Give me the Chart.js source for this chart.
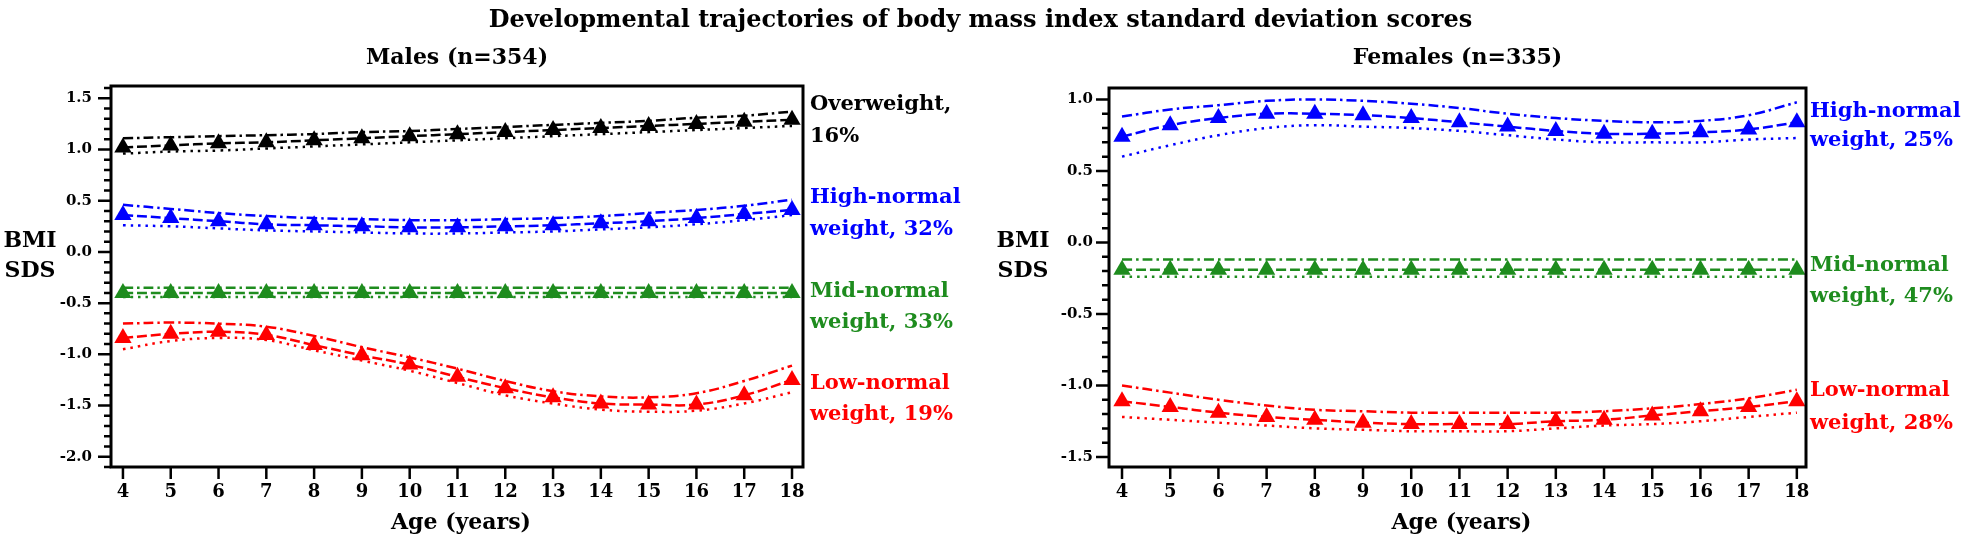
<!DOCTYPE html>
<html>
<head>
<meta charset="utf-8">
<script src="https://cdn.jsdelivr.net/npm/chart.js@4.4.1/dist/chart.umd.min.js"></script>
<style>
  html, body { margin: 0; padding: 0; background: #fff; }
  #wrap { position: relative; width: 1961px; height: 541px; overflow: hidden; }
  #title { position: absolute; left: 0; top: 4px; width: 1961px; text-align: center;
           font: bold 24px "DejaVu Serif"; line-height: 30px; color: #000; }
  #c1 { position: absolute; left: 0; top: 0; }
  #c2 { position: absolute; left: 980px; top: 0; }
</style>
</head>
<body>
<div id="wrap">
  <canvas id="c1" width="980" height="541"></canvas>
  <canvas id="c2" width="981" height="541"></canvas>
  <div id="title">Developmental trajectories of body mass index standard deviation scores</div>
</div>
<script>
// ages 4..18
const ages = [4, 5, 6, 7, 8, 9, 10, 11, 12, 13, 14, 15, 16, 17, 18];

// Males: upper CI / estimate / lower CI
const mOwUp  = [1.11, 1.12, 1.13, 1.14, 1.15, 1.17, 1.18, 1.20, 1.22, 1.24, 1.26, 1.28, 1.31, 1.33, 1.37];
const mOwEst = [1.02, 1.04, 1.06, 1.07, 1.09, 1.11, 1.13, 1.15, 1.17, 1.19, 1.21, 1.23, 1.25, 1.27, 1.29];
const mOwLo  = [0.96, 0.98, 0.99, 1.01, 1.03, 1.05, 1.07, 1.09, 1.11, 1.13, 1.15, 1.17, 1.19, 1.21, 1.23];

const mHnUp  = [0.46, 0.42, 0.38, 0.35, 0.33, 0.32, 0.31, 0.31, 0.32, 0.33, 0.35, 0.38, 0.41, 0.45, 0.51];
const mHnEst = [0.36, 0.33, 0.30, 0.27, 0.26, 0.25, 0.24, 0.24, 0.25, 0.26, 0.28, 0.30, 0.33, 0.37, 0.41];
const mHnLo  = [0.26, 0.25, 0.23, 0.21, 0.20, 0.19, 0.18, 0.18, 0.19, 0.20, 0.22, 0.24, 0.27, 0.31, 0.36];

const mMnUp  = [-0.35, -0.35, -0.35, -0.35, -0.35, -0.35, -0.35, -0.35, -0.35, -0.35, -0.35, -0.35, -0.35, -0.35, -0.35];
const mMnEst = [-0.40, -0.40, -0.40, -0.40, -0.40, -0.40, -0.40, -0.40, -0.40, -0.40, -0.40, -0.40, -0.40, -0.40, -0.40];
const mMnLo  = [-0.44, -0.44, -0.44, -0.44, -0.44, -0.44, -0.44, -0.44, -0.44, -0.44, -0.44, -0.44, -0.44, -0.44, -0.44];

const mLnUp  = [-0.70, -0.69, -0.70, -0.73, -0.82, -0.93, -1.03, -1.14, -1.26, -1.36, -1.41, -1.42, -1.38, -1.26, -1.11];
const mLnEst = [-0.84, -0.80, -0.78, -0.81, -0.91, -1.01, -1.10, -1.22, -1.33, -1.42, -1.48, -1.49, -1.49, -1.40, -1.25];
const mLnLo  = [-0.95, -0.87, -0.84, -0.86, -0.96, -1.06, -1.16, -1.28, -1.40, -1.48, -1.54, -1.56, -1.55, -1.48, -1.37];

// Females
const fHnUp  = [0.88, 0.93, 0.96, 0.99, 1.00, 0.99, 0.97, 0.94, 0.90, 0.87, 0.85, 0.84, 0.85, 0.89, 0.98];
const fHnEst = [0.74, 0.82, 0.87, 0.90, 0.90, 0.89, 0.87, 0.84, 0.81, 0.78, 0.76, 0.76, 0.77, 0.79, 0.84];
const fHnLo  = [0.60, 0.68, 0.75, 0.80, 0.82, 0.81, 0.80, 0.78, 0.75, 0.72, 0.70, 0.70, 0.70, 0.72, 0.73];

const fMnUp  = [-0.12, -0.12, -0.12, -0.12, -0.12, -0.12, -0.12, -0.12, -0.12, -0.12, -0.12, -0.12, -0.12, -0.12, -0.12];
const fMnEst = [-0.19, -0.19, -0.19, -0.19, -0.19, -0.19, -0.19, -0.19, -0.19, -0.19, -0.19, -0.19, -0.19, -0.19, -0.19];
const fMnLo  = [-0.24, -0.24, -0.24, -0.24, -0.24, -0.24, -0.24, -0.24, -0.24, -0.24, -0.24, -0.24, -0.24, -0.24, -0.24];

const fLnUp  = [-1.00, -1.05, -1.10, -1.14, -1.17, -1.18, -1.19, -1.19, -1.19, -1.19, -1.18, -1.16, -1.13, -1.09, -1.03];
const fLnEst = [-1.11, -1.15, -1.19, -1.22, -1.24, -1.26, -1.27, -1.27, -1.27, -1.25, -1.24, -1.21, -1.18, -1.15, -1.11];
const fLnLo  = [-1.22, -1.24, -1.26, -1.28, -1.30, -1.31, -1.32, -1.32, -1.32, -1.30, -1.28, -1.27, -1.25, -1.22, -1.19];

const BLACK = '#000000', BLUE = '#0000ff', GREEN = '#1e8c1e', RED = '#ff0000';
const FONT = '"DejaVu Serif"';

// three lines per class: upper (dash-dot), estimate (dashed + triangles), lower (dotted)
function band(color, up, est, lo) {
  const pts = arr => arr.map((v, i) => ({ x: ages[i], y: v }));
  const base = { borderColor: color, borderWidth: 2.5, tension: 0.4, fill: false, pointRadius: 0 };
  return [
    Object.assign({}, base, { data: pts(up), borderDash: [10, 4, 2.5, 4] }),
    Object.assign({}, base, { data: pts(est), borderDash: [10, 4], pointRadius: 10, pointStyle: 'triangle',
      pointBackgroundColor: color, pointBorderColor: color, pointBorderWidth: 0 }),
    Object.assign({}, base, { data: pts(lo), borderDash: [2.5, 5] })
  ];
}

const isMajor = v => Math.abs(v * 2 - Math.round(v * 2)) < 1e-6;

const decor = {
  id: 'decor',
  afterDraw(chart, args, o) {
    const ctx = chart.ctx, a = chart.chartArea;
    const xs = chart.scales.x, ys = chart.scales.y;
    ctx.save();
    ctx.strokeStyle = '#000';
    ctx.lineWidth = 2.5;
    ctx.beginPath();
    ys.ticks.forEach(t => {
      const p = ys.getPixelForValue(t.value);
      ctx.moveTo(a.left - (isMajor(t.value) ? 13 : 7), p);
      ctx.lineTo(a.left, p);
    });
    xs.ticks.forEach(t => {
      const p = xs.getPixelForValue(t.value);
      ctx.moveTo(p, a.bottom);
      ctx.lineTo(p, a.bottom + 12);
    });
    ctx.stroke();
    ctx.lineWidth = 3;
    ctx.strokeRect(a.left, a.top, a.right - a.left, a.bottom - a.top);

    ctx.textBaseline = 'middle';
    ctx.fillStyle = '#000';
    ctx.textAlign = 'center';
    ctx.font = 'bold 22px ' + FONT;
    ctx.fillText(o.title, (a.left + a.right) / 2, 58);
    ctx.fillText('Age (years)', (a.left + a.right) / 2 + 4, 523);
    ctx.fillText('BMI', o.ylabX, 241);
    ctx.fillText('SDS', o.ylabX, 271);

    ctx.textAlign = 'left';
    ctx.font = 'bold 21px ' + FONT;
    o.labels.forEach(l => {
      ctx.fillStyle = l.color;
      ctx.fillText(l.text, a.right + o.labelGap, l.y);
    });
    ctx.restore();
  }
};

function makeChart(id, datasets, cfg) {
  return new Chart(document.getElementById(id), {
    type: 'line',
    data: { datasets: datasets },
    plugins: [decor],
    options: {
      responsive: false,
      devicePixelRatio: 1,
      animation: false,
      layout: { padding: { left: 0, top: cfg.top, right: cfg.right, bottom: 0 } },
      plugins: {
        legend: { display: false },
        tooltip: { enabled: false },
        decor: cfg.decor
      },
      scales: {
        x: {
          type: 'linear', min: cfg.xMin, max: cfg.xMax,
          grid: { display: false, drawTicks: false }, border: { display: false },
          ticks: { stepSize: 1, includeBounds: false, autoSkip: false, maxRotation: 0, padding: 15,
                   color: '#000', font: { family: FONT, weight: 'bold', size: 18 } },
          afterFit: s => { s.height = 74; }
        },
        y: {
          min: cfg.yMin, max: cfg.yMax,
          grid: { display: false, drawTicks: false }, border: { display: false },
          ticks: { stepSize: 0.1, includeBounds: false, autoSkip: false, padding: cfg.yPad,
                   color: '#000', font: { family: FONT, weight: 'bold', size: 15 },
                   callback: v => isMajor(v) ? v.toFixed(1) : '' },
          afterFit: s => { s.width = cfg.yWidth; }
        }
      }
    }
  });
}

makeChart('c1',
  [].concat(band(BLACK, mOwUp, mOwEst, mOwLo), band(BLUE, mHnUp, mHnEst, mHnLo),
            band(GREEN, mMnUp, mMnEst, mMnLo), band(RED, mLnUp, mLnEst, mLnLo)),
  { top: 86, right: 177, yWidth: 111, yPad: 19, xMin: 3.75, xMax: 18.23, yMin: -2.1, yMax: 1.62,
    decor: { title: 'Males (n=354)', ylabX: 30, labelGap: 7, labels: [
      { text: 'Overweight,', y: 105, color: BLACK }, { text: '16%', y: 137, color: BLACK },
      { text: 'High-normal', y: 198, color: BLUE }, { text: 'weight, 32%', y: 230, color: BLUE },
      { text: 'Mid-normal', y: 292, color: GREEN }, { text: 'weight, 33%', y: 323, color: GREEN },
      { text: 'Low-normal', y: 384, color: RED }, { text: 'weight, 19%', y: 415, color: RED }
    ] } });

makeChart('c2',
  [].concat(band(BLUE, fHnUp, fHnEst, fHnLo), band(GREEN, fMnUp, fMnEst, fMnLo),
            band(RED, fLnUp, fLnEst, fLnLo)),
  { top: 88, right: 155, yWidth: 129, yPad: 16, xMin: 3.73, xMax: 18.19, yMin: -1.57, yMax: 1.08,
    decor: { title: 'Females (n=335)', ylabX: 43, labelGap: 4, labels: [
      { text: 'High-normal', y: 112, color: BLUE }, { text: 'weight, 25%', y: 141, color: BLUE },
      { text: 'Mid-normal', y: 266, color: GREEN }, { text: 'weight, 47%', y: 297, color: GREEN },
      { text: 'Low-normal', y: 391, color: RED }, { text: 'weight, 28%', y: 424, color: RED }
    ] } });
</script>
</body>
</html>
